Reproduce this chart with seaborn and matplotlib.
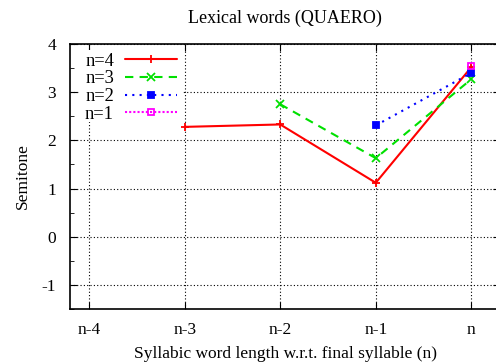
import pandas as pd
import seaborn as sns
import matplotlib.pyplot as plt
from matplotlib.patches import Rectangle
from matplotlib.ticker import MultipleLocator

sns.set_style("ticks")
plt.rcParams['font.family'] = ['Liberation Serif', 'DejaVu Serif']
plt.rcParams['axes.unicode_minus'] = False
plt.rcParams['text.color'] = 'black'
plt.rcParams['axes.labelcolor'] = 'black'
plt.rcParams['xtick.color'] = 'black'
plt.rcParams['ytick.color'] = 'black'
plt.rcParams['axes.edgecolor'] = 'black'

# positions relative to final syllable (n = 0)
tick_pos = [-4, -3, -2, -1, 0]
tick_labels = ["n-4", "n-3", "n-2", "n-1", "n"]

n4_x = [-3, -2, -1, 0]
n4_y = [2.28, 2.33, 1.12, 3.52]
n3_x = [-2, -1, 0]
n3_y = [2.75, 1.63, 3.27]
n2_x = [-1, 0]
n2_y = [2.31, 3.40]
n1_x = [0]
n1_y = [3.55]

series = [
    ("n=4", n4_x, n4_y, "#ff0000", "-", "+", "#ff0000"),
    ("n=3", n3_x, n3_y, "#00e000", (0, (4, 3)), "x", "#00e000"),
    ("n=2", n2_x, n2_y, "#0000ff", (0, (1, 2.5)), "s", "#0000ff"),
    ("n=1", n1_x, n1_y, "#ff00ff", (0, (1, 1)), "s", "none"),
]

fig = plt.figure(figsize=(4.96, 3.62), dpi=100)
ax = fig.add_axes([70 / 496, 53 / 362, 430 / 496, 265 / 362])

for name, xs, ys, col, ls, mk, fc in series:
    df = pd.DataFrame({"x": xs, "y": ys})
    sns.lineplot(data=df, x="x", y="y", ax=ax, color=col, linestyle=ls,
                 marker=mk, markersize=6 if mk != "s" else 5,
                 markerfacecolor=fc, markeredgecolor=col, markeredgewidth=1.3,
                 linewidth=1.5, label=name)

ax.set_xlim(-4.2, 0.3)
ax.set_ylim(-1.5, 4)
ax.set_xticks(tick_pos)
ax.set_xticklabels(tick_labels)
ax.yaxis.set_major_locator(MultipleLocator(1))
ax.yaxis.set_minor_locator(MultipleLocator(0.5))
ax.tick_params(axis="both", which="both", direction="in", top=True, right=True,
               labelsize=12.5)
ax.tick_params(axis="x", pad=9)
ax.tick_params(axis="y", pad=10)
ax.tick_params(which="major", length=5)
ax.tick_params(which="minor", length=3)
ax.grid(True, which="major", color="black", linestyle=(0, (1, 2)), linewidth=0.8)
for s in ax.spines.values():
    s.set_linewidth(1.2)

# white key box hides the grid behind the legend (gnuplot style)
ax.add_patch(Rectangle((10 / 430, 1 - 78 / 265), 102 / 430, 72 / 265,
                       transform=ax.transAxes, facecolor="white",
                       edgecolor="none", zorder=1))

ax.set_title("Lexical words (QUAERO)", fontsize=13, pad=15)
ax.set_xlabel("Syllabic word length w.r.t. final syllable (n)", fontsize=12.5, labelpad=6)
ax.set_ylabel("Semitone", fontsize=12.5, labelpad=8)

leg = ax.legend(loc="upper left", frameon=False, markerfirst=False, fontsize=13.3,
                handlelength=2.8, handletextpad=0.6, labelspacing=0.04,
                borderaxespad=0, borderpad=0,
                bbox_to_anchor=(15 / 430, 1 - 8.5 / 265))

fig.savefig("out.png", dpi=100)
